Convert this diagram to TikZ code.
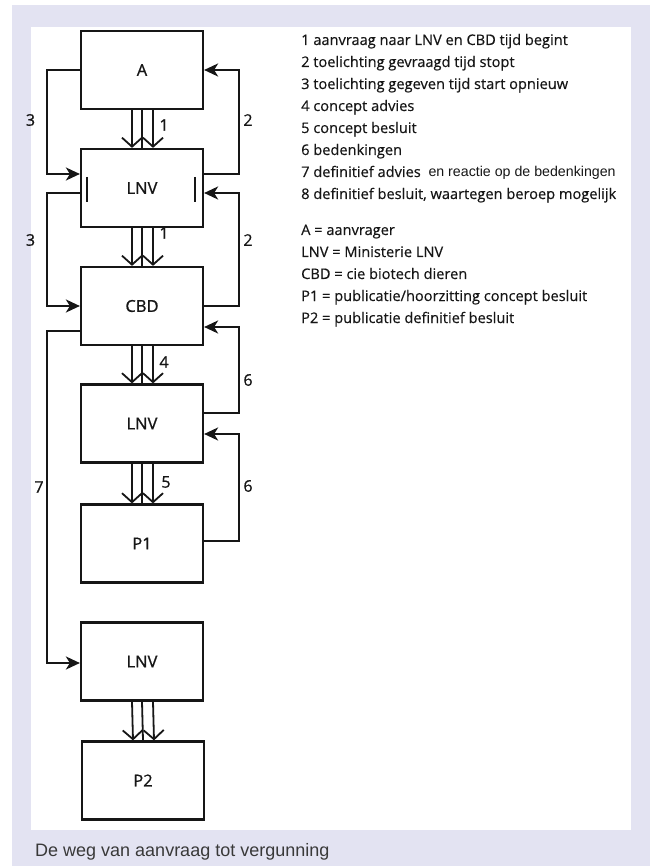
\documentclass[tikz,border=0pt]{standalone}
\usepackage{fontspec}
\setmainfont{Open Sans}
\newfontfamily\arialf{Liberation Sans}
\newfontfamily\medf[FakeBold=0.8]{Open Sans}
\newfontfamily\legf[FakeBold=0.4]{Open Sans}
\usetikzlibrary{arrows.meta}
\definecolor{lav}{RGB}{227,227,242}
\definecolor{ink}{RGB}{22,22,22}
\begin{document}
\begin{tikzpicture}[x=1pt,y=-1pt,
  box/.style={draw=ink,line width=2.2pt,minimum width=122pt,minimum height=78pt,inner sep=0pt,font=\medf\fontsize{16.5}{19}\selectfont,text=ink},
  loopar/.style={draw=ink,line width=2.2pt,-{Stealth[length=14pt,width=13pt,inset=4pt]}},
  tri/.style={draw=ink,line width=1.8pt,-{Straight Barb[length=9pt,width=20pt]}},
  mid/.style={draw=ink,line width=1.8pt},
  num/.style={font=\medf\fontsize{16}{19}\selectfont,text=ink,inner sep=0pt},
  leg/.style={font=\legf\fontsize{14.6}{17}\selectfont,text=ink,inner sep=0pt,anchor=base west}]
\useasboundingbox (0,0) rectangle (651,866);
\fill[white] (0,0) rectangle (651,866);
\fill[lav] (12,5) rectangle (650,866);
\fill[white] (31,27) rectangle (631,830);
% boxes
\node[box] (A)   at (142,70)    {A};
\node[box] (L1)  at (142,188)   {LNV};
\node[box] (CBD) at (142,306)   {CBD};
\node[box] (L2)  at (142,423.5) {LNV};
\node[box] (P1)  at (142,543.5) {P1};
\node[box] (L3)  at (142,661.5) {LNV};
\node[box] (P2)  at (143,780.5) {P2};
% bars in LNV
\draw[ink,line width=2.2pt] ([xshift=7pt,yshift=11pt]L1.west) -- ([xshift=7pt,yshift=-14pt]L1.west);
\draw[ink,line width=2.2pt] ([xshift=-9pt,yshift=11pt]L1.east) -- ([xshift=-9pt,yshift=-14pt]L1.east);
% triple arrows
\foreach \u/\v in {A/L1,L1/CBD,CBD/L2,L2/P1,L3/P2}{
  \draw[tri] ([xshift=-10pt]\u.south) -- ([xshift=-10pt]\v.north);
  \draw[mid] (\u.south) -- (\v.north);
  \draw[tri] ([xshift=11pt]\u.south) -- ([xshift=11pt]\v.north);
}
% loops
\draw[loopar] (A.west) -- ++(-33,0) |- ([yshift=14pt]L1.west);
\draw[loopar] ([yshift=14pt]L1.east) -- ++(35,0) |- (A.east);
\draw[loopar] ([yshift=-5pt]L1.west) -- ++(-33,0) |- (CBD.west);
\draw[loopar] (CBD.east) -- ++(35,0) |- ([yshift=-5pt]L1.east);
\draw[loopar] ([yshift=10.5pt]L2.east) -- ++(35,0) |- ([yshift=-21pt]CBD.east);
\draw[loopar] ([yshift=2.5pt]P1.east) -- ++(35,0) |- ([yshift=-10.5pt]L2.east);
\draw[loopar] ([yshift=-25pt]CBD.west) -- ++(-33,0) |- ([yshift=-1.5pt]L3.west);
% numbers
\node[num] (n3a) at (30.5,120) {3};
\node[num] (n2a) at (248,120) {2};
\node[num] (n1a) at (164,125) {1};
\node[num] (n3b) at (30.5,240) {3};
\node[num] (n2b) at (248,240) {2};
\node[num] (n1b) at (164,233) {1};
\node[num] (n4) at (164,362) {4};
\node[num] (n6a) at (248,380) {6};
\node[num] (n5) at (166,482) {5};
\node[num] (n6b) at (248,486) {6};
\node[num] (n7) at (39,487) {7};
% legend
\node[leg] (l1) at (301,45) {1 aanvraag naar LNV en CBD tijd begint};
\node[leg] (l2) at (301,67) {2 toelichting gevraagd tijd stopt};
\node[leg] (l3) at (301,89) {3 toelichting gegeven tijd start opnieuw};
\node[leg] (l4) at (301,111) {4 concept advies};
\node[leg] (l5) at (301,133) {5 concept besluit};
\node[leg] (l6) at (301,155) {6 bedenkingen};
\node[leg] (l7) at (301,177) {7 definitief advies {\arialf\fontsize{14.2}{17}\selectfont\ en reactie op de bedenkingen}};
\node[leg] (l8) at (301,199) {8 definitief besluit, waartegen beroep mogelijk};
\node[leg] (k1) at (301,235) {A = aanvrager};
\node[leg] (k2) at (301,257) {LNV = Ministerie LNV};
\node[leg] (k3) at (301,279) {CBD = cie biotech dieren};
\node[leg] (k4) at (301,301) {P1 = publicatie/hoorzitting concept besluit};
\node[leg] (k5) at (301,323) {P2 = publicatie definitief besluit};
% caption
\node[font=\arialf\fontsize{18}{20}\selectfont,text=ink!85,inner sep=0pt,anchor=base west] (cap) at (35,856) {De weg van aanvraag tot vergunning};
\end{tikzpicture}
\end{document}
